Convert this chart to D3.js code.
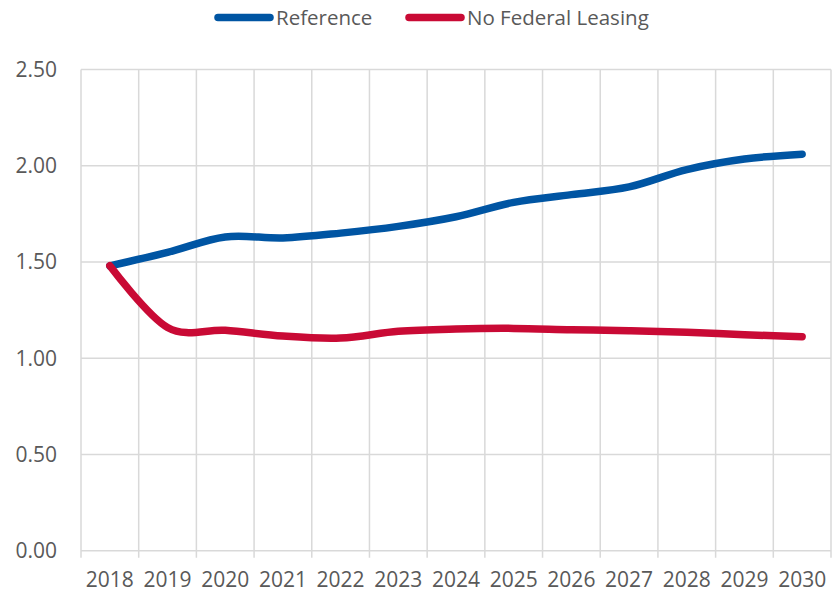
<!DOCTYPE html>
<html><head><meta charset="utf-8">
<script src="https://cdn.jsdelivr.net/npm/d3@7"></script>
<style>
html,body{margin:0;padding:0;background:#fff;}
text{font-family:"Open Sans",sans-serif;fill:#595959;}
</style></head>
<body><svg id="c" width="833" height="593"></svg>
<script>
const years = ["2018","2019","2020","2021","2022","2023","2024","2025","2026","2027","2028","2029","2030"];
const referenceValues = [1.48,1.55,1.63,1.625,1.65,1.685,1.735,1.81,1.85,1.89,1.98,2.035,2.06];
const noFederalLeasingValues = [1.48,1.16,1.145,1.115,1.105,1.14,1.152,1.155,1.148,1.143,1.135,1.122,1.112];
const yTicks = [0,0.5,1.0,1.5,2.0,2.5];
const seriesNames = ["Reference","No Federal Leasing"];
const seriesColors = ["#0055a3","#c90a35"];

const svg = d3.select("#c");
const L=81, R=831, T=69.5, B=550.7;
const x = d3.scaleBand().domain(years).range([L,R]).padding(0);
const y = d3.scaleLinear().domain([0,2.5]).range([B,T]);
const grid = "#d9d9d9";

// horizontal gridlines
svg.append("g").selectAll("line").data(yTicks).join("line")
  .attr("x1",L).attr("x2",R).attr("y1",d=>y(d)).attr("y2",d=>y(d))
  .attr("stroke",grid).attr("stroke-width",1.5);
// vertical gridlines at category boundaries (extend as tick marks)
const bounds = years.map(d=>x(d)).concat([R]);
svg.append("g").selectAll("line").data(bounds).join("line")
  .attr("x1",d=>d).attr("x2",d=>d).attr("y1",T).attr("y2",B+7)
  .attr("stroke",grid).attr("stroke-width",1.5);

// y labels
svg.append("g").selectAll("text").data(yTicks).join("text")
  .attr("x",57).attr("y",d=>y(d)).attr("dy","0.35em").attr("text-anchor","end")
  .attr("font-size",21).text(d=>d3.format(".2f")(d));
// x labels
svg.append("g").selectAll("text").data(years).join("text")
  .attr("x",d=>x(d)+x.bandwidth()/2).attr("y",587).attr("text-anchor","middle")
  .attr("font-size",21).text(d=>d);

const line = d3.line().x((d,i)=>x(years[i])+x.bandwidth()/2).y(d=>y(d)).curve(d3.curveCardinal.tension(0));
[referenceValues,noFederalLeasingValues].forEach((vals,k)=>{
  svg.append("path").datum(vals).attr("d",line).attr("fill","none")
    .attr("stroke",seriesColors[k]).attr("stroke-width",7.5)
    .attr("stroke-linecap","round").attr("stroke-linejoin","round");
});

// legend
const legX = [215,406];
seriesNames.forEach((n,k)=>{
  const g = svg.append("g");
  g.append("line").attr("x1",legX[k]+3).attr("x2",legX[k]+55).attr("y1",17.5).attr("y2",17.5)
    .attr("stroke",seriesColors[k]).attr("stroke-width",7.5).attr("stroke-linecap","round");
  g.append("text").attr("x",legX[k]+61).attr("y",25).attr("font-size",20.5).text(n);
});
</script></body></html>
